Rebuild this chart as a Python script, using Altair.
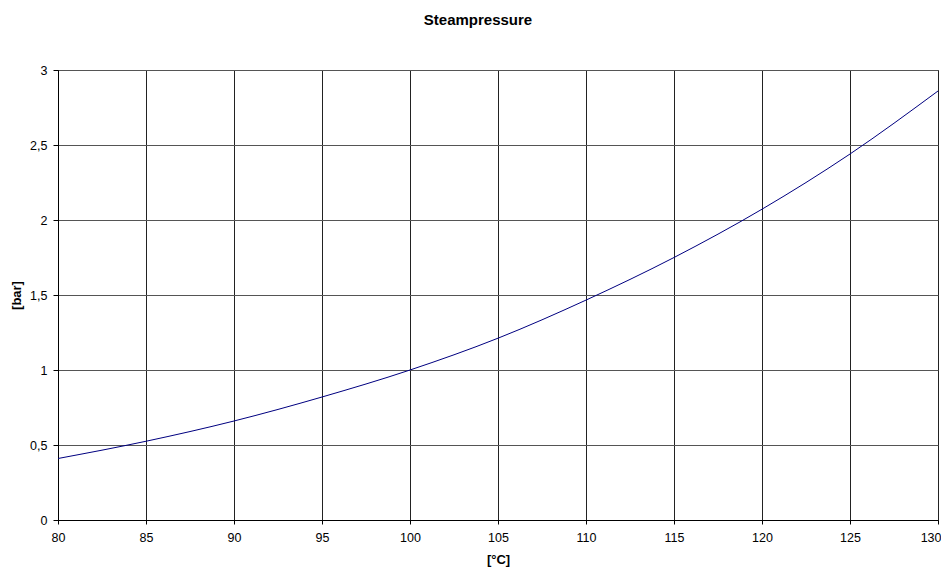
import altair as alt
import pandas as pd

temperature = [80, 85, 90, 95, 100, 105, 110, 115, 120, 125, 130]
pressure = [0.41, 0.525, 0.66, 0.82, 1.0, 1.212, 1.466, 1.75, 2.072, 2.44, 2.86]

x_ticks = [80, 85, 90, 95, 100, 105, 110, 115, 120, 125, 130]
y_ticks = [0, 0.5, 1, 1.5, 2, 2.5, 3]

df = pd.DataFrame({"t": temperature, "p": pressure})

FONT = "Liberation Sans"

chart = alt.Chart(df).mark_line(
    color="#000080", strokeWidth=1, interpolate="monotone"
).encode(
    x=alt.X("t:Q", title="[°C]",
            scale=alt.Scale(domain=[80, 130], nice=False, zero=False),
            axis=alt.Axis(values=x_ticks, grid=True, gridColor="#222222", gridOpacity=1,
                          domainColor="#000000", tickColor="#000000", tickSize=4,
                          labelPadding=7, titlePadding=10, labelFlush=False,
                          labelAlign=alt.condition("datum.value == 130", alt.value("right"), alt.value("center")),
                          labelOffset=alt.condition("datum.value == 130", alt.value(3), alt.value(0)))),
    y=alt.Y("p:Q", title="[bar]",
            scale=alt.Scale(domain=[0, 3], nice=False),
            axis=alt.Axis(values=y_ticks, grid=True, gridColor="#555555", gridOpacity=1,
                          domainColor="#000000", tickColor="#000000", tickSize=5,
                          labelPadding=6, titlePadding=6,
                          labelExpr="replace(toString(datum.value), '.', ',')")),
).properties(
    width=880,
    height=450,
    title=alt.TitleParams("Steampressure", fontSize=15, fontWeight="bold", font=FONT,
                          color="#000000", offset=36, anchor="middle", frame="group", dx=-20),
    autosize=alt.AutoSizeParams(type="none"),
    padding={"left": 50, "top": 62, "right": 3, "bottom": 50},
).configure_axis(
    labelFont=FONT, labelFontSize=12.5, labelColor="#000000",
    titleFont=FONT, titleFontSize=13, titleFontWeight="bold", titleColor="#000000",
    domainWidth=1, tickWidth=1, gridWidth=1,
).configure_view(stroke="#222222")

chart.save("out.html", embed_options={"renderer": "svg", "actions": False})
